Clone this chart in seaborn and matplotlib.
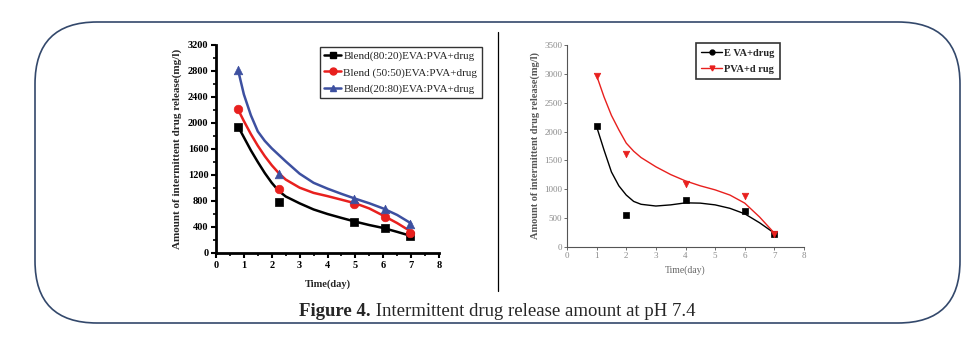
import numpy as np
import pandas as pd
import matplotlib
matplotlib.use("Agg")
import matplotlib.pyplot as plt
import seaborn as sns
from matplotlib.lines import Line2D
from matplotlib.patches import FancyBboxPatch
from matplotlib.ticker import MultipleLocator

sns.set_theme(style="white")
plt.rcParams['font.family'] = ['Liberation Serif', 'DejaVu Serif']

# ---------------- Left panel data ----------------
left_labels = ["Blend(80:20)EVA:PVA+drug", "Blend (50:50)EVA:PVA+drug", "Blend(20:80)EVA:PVA+drug"]
left_x = [0.8, 2.25, 4.95, 6.05, 6.95]
blend_80_20 = [1940, 780, 480, 380, 265]
blend_50_50 = [2210, 985, 760, 560, 310]
blend_20_80 = [2810, 1215, 830, 670, 440]
# smooth fitted curves
fit_left_x = [0.8, 1.0, 1.25, 1.5, 1.75, 2.0, 2.25, 2.5, 3.0, 3.5, 4.0, 4.5, 5.0, 5.5, 6.0, 6.5, 7.0]
fit_80_20 = [1940, 1780, 1580, 1400, 1230, 1080, 955, 870, 764, 670, 600, 540, 482, 430, 385, 325, 262]
fit_50_50 = [2200, 2030, 1830, 1650, 1490, 1350, 1230, 1130, 1005, 925, 875, 820, 764, 685, 575, 460, 328]
fit_20_80 = [2800, 2440, 2120, 1870, 1725, 1610, 1510, 1410, 1220, 1080, 990, 910, 835, 765, 685, 585, 455]

# ---------------- Right panel data ----------------
right_labels = ["E VA+drug", "PVA+d rug"]
right_x = [1, 2, 4, 6, 7]
eva_drug = [2090, 560, 820, 620, 230]
pva_drug = [2970, 1610, 1100, 890, 230]
fit_right_x = [1.0, 1.25, 1.5, 1.75, 2.0, 2.25, 2.5, 3.0, 3.5, 4.0, 4.5, 5.0, 5.5, 6.0, 6.5, 7.0]
fit_eva = [2085, 1680, 1300, 1060, 900, 790, 740, 710, 730, 765, 760, 730, 670, 575, 420, 240]
fit_pva = [2970, 2600, 2280, 2030, 1800, 1660, 1550, 1390, 1255, 1145, 1060, 990, 900, 760, 520, 240]

fig = plt.figure(figsize=(9.72, 3.38), dpi=100)
fig.patch.set_facecolor("white")

# background frame axes (pixel coords)
bg = fig.add_axes([0, 0, 1, 1], zorder=-1)
bg.set_xlim(0, 972)
bg.set_ylim(338, 0)
bg.axis("off")
bg.add_patch(FancyBboxPatch((35, 22), 925, 301, boxstyle="round,pad=0,rounding_size=62",
                            fill=False, edgecolor="#33486b", linewidth=1.2))
bg.plot([498, 498], [32, 291], color="black", linewidth=0.9)
bg.text(371, 311, "Figure 4.", fontsize=13.5, fontweight="bold", ha="right", va="center")
bg.text(371, 311, " Intermittent drug release amount at pH 7.4", fontsize=13.5, ha="left", va="center")

# ---------------- Left axes ----------------
axL = fig.add_axes([216/972, 1-253/338, (439-216)/972, (253-45)/338])
colorsL = ["black", "#e8201e", "#3d50a0"]
markersL = ["s", "o", "^"]
fits = [fit_80_20, fit_50_50, fit_20_80]
pts = [blend_80_20, blend_50_50, blend_20_80]
for lab, c, m, f, p in zip(left_labels, colorsL, markersL, fits, pts):
    sns.lineplot(x=fit_left_x, y=f, ax=axL, color=c, linewidth=1.8, sort=False, legend=False)
    sns.scatterplot(x=left_x, y=p, ax=axL, color=c, marker=m, s=38, edgecolor=c, linewidth=0.5,
                    legend=False, zorder=5)
axL.set_xlim(0, 8)
axL.set_ylim(0, 3200)
axL.xaxis.set_major_locator(MultipleLocator(1))
axL.xaxis.set_minor_locator(MultipleLocator(0.5))
axL.yaxis.set_major_locator(MultipleLocator(400))
axL.yaxis.set_minor_locator(MultipleLocator(200))
for s in ["top", "right"]:
    axL.spines[s].set_visible(False)
for s in ["left", "bottom"]:
    axL.spines[s].set_color("black")
    axL.spines[s].set_linewidth(2.0)
axL.tick_params(which="major", direction="out", length=3.5, width=1.5, colors="black",
                labelsize=7.5, bottom=True, left=True, pad=2)
axL.tick_params(which="minor", direction="out", length=2, width=1.2, colors="black",
                bottom=True, left=True)
for lbl in axL.get_xticklabels() + axL.get_yticklabels():
    lbl.set_fontweight("bold")
axL.set_xlabel("Time(day)", fontsize=7.5, fontweight="bold", labelpad=7)
axL.set_ylabel("Amount of intermittent drug release(mg/l)", fontsize=8, fontweight="bold", labelpad=4)
axL.set_facecolor("white")
handlesL = [Line2D([0], [0], color=c, marker=m, markersize=5, linewidth=1.8)
            for c, m in zip(colorsL, markersL)]
legL = fig.legend(handlesL, left_labels, loc="upper left", bbox_to_anchor=(320/972, 1-47/338),
                  fontsize=8, frameon=True, fancybox=False, edgecolor="black",
                  handlelength=1.5, handletextpad=0.2, borderpad=0.4, labelspacing=0.55,
                  borderaxespad=0)
legL.get_frame().set_linewidth(1.0)

# ---------------- Right axes ----------------
axR = fig.add_axes([567/972, 1-247/338, (804-567)/972, (247-45)/338])
colorsR = ["black", "#e8201e"]
markersR = ["s", "v"]
fitsR = [fit_eva, fit_pva]
ptsR = [eva_drug, pva_drug]
for lab, c, m, f, p in zip(right_labels, colorsR, markersR, fitsR, ptsR):
    sns.lineplot(x=fit_right_x, y=f, ax=axR, color=c, linewidth=1.0, sort=False, legend=False)
    sns.scatterplot(x=right_x, y=p, ax=axR, color=c, marker=m, s=22, edgecolor=c, linewidth=0.5,
                    legend=False, zorder=5)
axR.set_xlim(0, 8)
axR.set_ylim(0, 3500)
axR.xaxis.set_major_locator(MultipleLocator(1))
axR.yaxis.set_major_locator(MultipleLocator(500))
for s in ["top", "right"]:
    axR.spines[s].set_visible(False)
for s in ["left", "bottom"]:
    axR.spines[s].set_color("#555555")
    axR.spines[s].set_linewidth(0.8)
axR.tick_params(which="major", direction="out", length=2, width=0.6, colors="#555555",
                labelsize=6.5, bottom=True, left=True, pad=1.5)
for lbl in axR.get_xticklabels() + axR.get_yticklabels():
    lbl.set_color("#8a8a8a")
axR.set_xlabel("Time(day)", fontsize=7, color="#666666", labelpad=4)
axR.set_ylabel("Amount of intermittent drug release(mg/l)", fontsize=7.5, color="#555555",
               fontweight="bold", labelpad=3)
axR.set_facecolor("white")
handlesR = [Line2D([0], [0], color=c, marker="o" if c == "black" else "v", markersize=3.5, linewidth=1.0)
            for c in colorsR]
legR = fig.legend(handlesR, right_labels, loc="upper left", bbox_to_anchor=(696/972, 1-43/338),
                  frameon=True, fancybox=False, edgecolor="black",
                  handlelength=2.0, handletextpad=0.2, borderpad=0.5, labelspacing=0.7,
                  borderaxespad=0, prop={"weight": "bold", "size": 7.5})
legR.get_frame().set_linewidth(1.2)

fig.savefig("out.png", dpi=100, facecolor="white")
